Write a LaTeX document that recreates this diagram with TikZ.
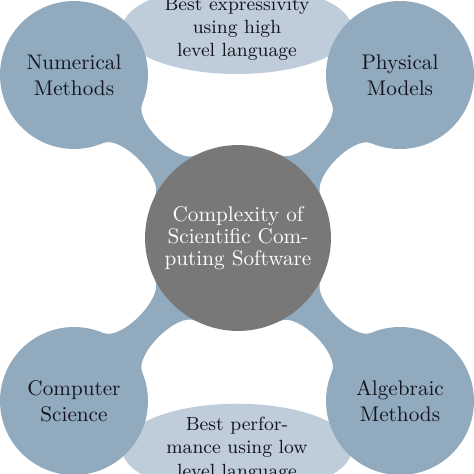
\documentclass[tikz,border=0pt]{standalone}
\usetikzlibrary{backgrounds,shapes.geometric,calc}
\definecolor{cblue}{RGB}{145,170,190}
\definecolor{clight}{RGB}{190,205,217}
\definecolor{cgray}{RGB}{120,120,120}
\definecolor{ctext}{RGB}{20,20,30}
\newcommand{\conbar}[1]{%
  \fill[barfill] ($(core.center)!43.87pt!18:(#1.center)$)
    .. controls ($(core.center)!44.86pt!5.86:(#1.center)$) and ($(#1.center)!36.2pt!-6.9:(core.center)$)
    .. ($(#1.center)!34.9pt!-22:(core.center)$)
    -- (#1.center)
    -- ($(#1.center)!34.9pt!22:(core.center)$)
    .. controls ($(#1.center)!36.2pt!6.9:(core.center)$) and ($(core.center)!44.86pt!-5.86:(#1.center)$)
    .. ($(core.center)!43.87pt!-18:(#1.center)$)
    -- (core.center) -- cycle;}
\begin{document}
\begin{tikzpicture}[x=0.4717pt,y=-0.4717pt,
  corner/.style={circle, fill=cblue, minimum size=69.8pt, inner sep=0pt, text=ctext, align=center, font=\fontsize{10}{12.4}\selectfont},
  core/.style={circle, fill=cgray, minimum size=87.7pt, inner sep=0pt, text=white, align=center, font=\fontsize{10}{10.5}\selectfont},
  note/.style={ellipse, fill=clight, minimum width=108.5pt, minimum height=42pt, inner sep=0pt, text=ctext, align=center, font=\fontsize{9}{11}\selectfont},
  barfill/.style={fill=cblue}]
\useasboundingbox (0,0) rectangle (474,474);
\node[core] (core) at (238,238) {Complexity of\\Scientific Com-\\puting Software};
\node[corner] (nm) at (74,75) {Numerical\\Methods};
\node[corner] (pm) at (400,75) {Physical\\Models};
\node[corner] (cs) at (74,401) {Computer\\Science};
\node[corner] (am) at (400,401) {Algebraic\\Methods};
\begin{scope}[on background layer]
\node[note] (top) at (237,29) {Best expressivity\\using high\\level language};
\node[note] (bot) at (237,449) {Best perfor-\\mance using low\\level language};
\conbar{nm}
\conbar{pm}
\conbar{cs}
\conbar{am}
\end{scope}
\end{tikzpicture}
\end{document}
